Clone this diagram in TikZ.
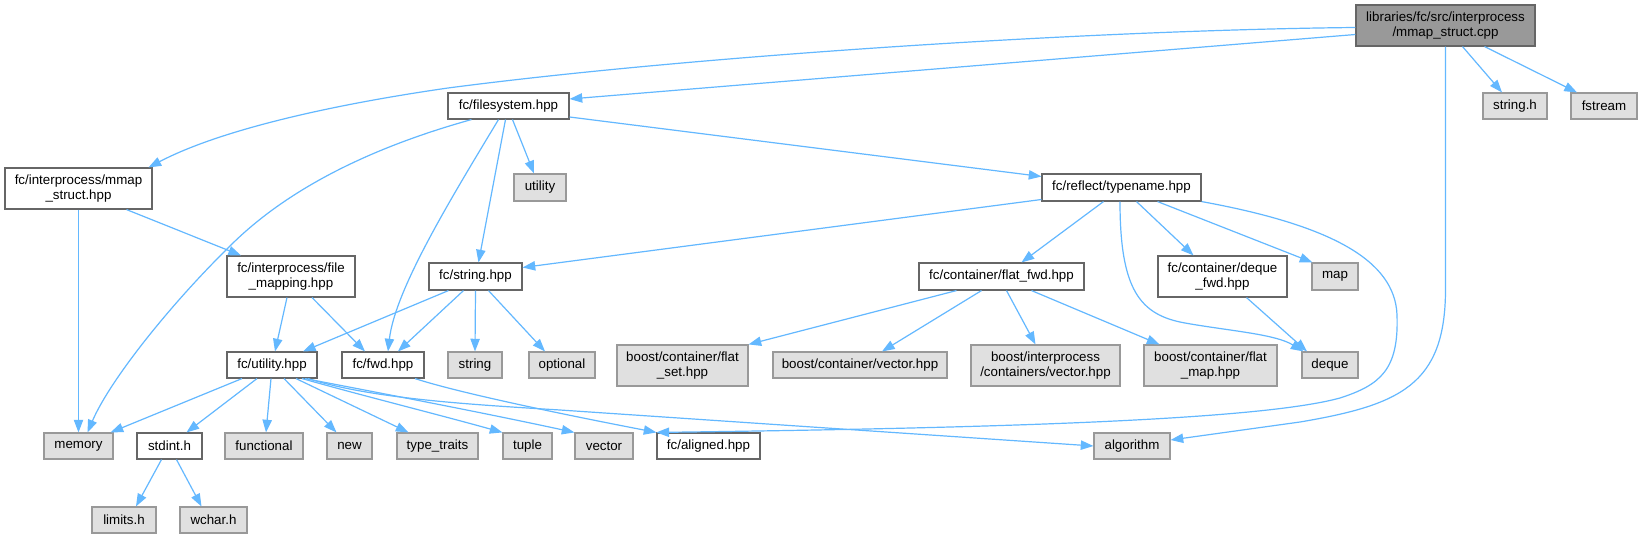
\documentclass[tikz,border=0pt]{standalone}
\usepackage{fontspec}
\setmainfont{Liberation Sans}
\usetikzlibrary{calc,arrows.meta}
\definecolor{edgec}{HTML}{63B8FF}
\definecolor{docdraw}{HTML}{666666}
\definecolor{extfill}{HTML}{E0E0E0}
\definecolor{extdraw}{HTML}{999999}
\definecolor{rootfill}{HTML}{999999}
\newcommand{\gbox}[7]{\node[#1,minimum width={(#5-#3)*0.75pt},minimum height={(#6-#4)*0.75pt}] (#2) at ({(#3+#5)/2},{(#4+#6)/2}) {#7};}
\tikzset{
  basebox/.style={rectangle,inner sep=0pt,line width=0.85pt,align=center,font=\fontsize{10pt}{11.25pt}\selectfont},
  docbox/.style={basebox,draw=docdraw,fill=white},
  extbox/.style={basebox,draw=extdraw,fill=extfill},
  rootbox/.style={basebox,draw=docdraw,fill=rootfill},
  inc/.style={draw=edgec,line width=0.9pt,-{Triangle[length=9.5pt,width=7pt]}}
}
\begin{document}
\begin{tikzpicture}[x=0.75pt,y=-0.75pt]
\useasboundingbox[fill=white] (0,0) rectangle (1642,538);
% nodes
\gbox{rootbox}{root}{1356}{5}{1535}{46}{libraries/fc/src/interprocess\\/mmap\_struct.cpp}
\gbox{extbox}{strh}{1483}{93}{1547}{119}{string.h}
\gbox{extbox}{fstream}{1571}{93}{1637}{119}{fstream}
\gbox{docbox}{fs}{448}{93}{569}{119}{fc/filesystem.hpp}
\gbox{docbox}{mmaph}{5}{168}{152}{209}{fc/interprocess/mmap\\\_struct.hpp}
\gbox{extbox}{util}{514}{174}{566}{201}{utility}
\gbox{docbox}{tn}{1042}{174}{1201}{201}{fc/reflect/typename.hpp}
\gbox{docbox}{fmap}{227}{256}{355}{297}{fc/interprocess/file\\\_mapping.hpp}
\gbox{docbox}{strhpp}{429}{263}{522}{290}{fc/string.hpp}
\gbox{docbox}{flatfwd}{919}{263}{1084}{290}{fc/container/flat\_fwd.hpp}
\gbox{docbox}{dequefwd}{1158}{256}{1287}{297}{fc/container/deque\\\_fwd.hpp}
\gbox{extbox}{map}{1312}{263}{1358}{290}{map}
\gbox{docbox}{utilhpp}{227}{352}{317}{378}{fc/utility.hpp}
\gbox{docbox}{fwd}{342}{352}{424}{378}{fc/fwd.hpp}
\gbox{extbox}{string}{448}{352}{502}{378}{string}
\gbox{extbox}{optional}{529}{352}{595}{378}{optional}
\gbox{extbox}{flatset}{617}{345}{748}{386}{boost/container/flat\\\_set.hpp}
\gbox{extbox}{vechpp}{773}{352}{947}{378}{boost/container/vector.hpp}
\gbox{extbox}{ipvec}{971}{345}{1120}{386}{boost/interprocess\\/containers/vector.hpp}
\gbox{extbox}{flatmap}{1144}{345}{1277}{386}{boost/container/flat\\\_map.hpp}
\gbox{extbox}{deque}{1302}{352}{1358}{378}{deque}
\gbox{extbox}{memory}{44}{433}{113}{459}{memory}
\gbox{docbox}{stdint}{137}{433}{202}{459}{stdint.h}
\gbox{extbox}{functional}{225}{433}{303}{459}{functional}
\gbox{extbox}{new}{327}{433}{372}{459}{new}
\gbox{extbox}{tt}{397}{433}{478}{459}{type\_traits}
\gbox{extbox}{tuple}{503}{433}{552}{459}{tuple}
\gbox{extbox}{vector}{575}{433}{633}{459}{vector}
\gbox{docbox}{aligned}{657}{433}{760}{459}{fc/aligned.hpp}
\gbox{extbox}{alg}{1094}{433}{1170}{459}{algorithm}
\gbox{extbox}{limits}{92}{507}{156}{533}{limits.h}
\gbox{extbox}{wchar}{180}{507}{247}{533}{wchar.h}
% root edges
\draw[inc] ($(root.west)+(0,2)$) .. controls (1100,30) and (700,55) .. (448,88) .. controls (330,105) and (220,130) .. ($(mmaph.north)+(70,0)$);
\draw[inc] ($(root.west)+(0,9)$) -- ($(fs.east)+(0,-7)$);
\draw[inc] ($(root.south)+(17,0)$) -- ($(strh.north)+(-13,0)$);
\draw[inc] ($(root.south)+(39,0)$) -- ($(fstream.north)+(-27,0)$);
\draw[inc] (root.south) -- ($(root.south)+(0,244)$) .. controls (1445,385) and (1400,405) .. (1300,422) -- ($(alg.east)+(0,-6)$);
% filesystem edges
\draw[inc] ($(fs.south)+(-37,0)$) .. controls (380,145) and (290,185) .. (228,248) .. controls (170,305) and (110,380) .. ($(memory.north)+(9,0)$);
\draw[inc] ($(fs.south)+(-10,0)$) .. controls (450,200) and (395,290) .. ($(fwd.north)+(5,0)$);
\draw[inc] ($(fs.south)+(-3,0)$) -- ($(strhpp.north)+(3,0)$);
\draw[inc] ($(fs.south)+(4,0)$) -- ($(util.north)+(-6,0)$);
\draw[inc] ($(fs.east)+(0,11)$) -- ($(tn.west)+(0,-11)$);
% mmap_struct.hpp edges
\draw[inc] (mmaph.south) -- (mmaph.south |- memory.north);
\draw[inc] ($(mmaph.south)+(48,0)$) -- ($(fmap.north)+(-50,0)$);
% typename edges
\draw[inc] ($(tn.west)+(0,12)$) -- ($(strhpp.east)+(0,-9)$);
\draw[inc] ($(tn.south)+(-18,0)$) -- ($(flatfwd.north)+(20,0)$);
\draw[inc] ($(tn.south)+(-1.5,0)$) .. controls (1120,290) and (1140,315) .. (1185,323) .. controls (1230,331) and (1275,334) .. ($(deque.north west)+(2,0)$);
\draw[inc] ($(tn.south)+(15,0)$) -- ($(dequefwd.north)+(-29,0)$);
\draw[inc] ($(tn.south)+(36,0)$) -- ($(map.north west)+(1,0)$);
\draw[inc] (tn.south east) .. controls (1330,225) and (1395,260) .. (1397,315) .. controls (1399,370) and (1380,385) .. (1340,398) .. controls (1260,420) and (1000,428) .. (aligned.north west);
% deque_fwd edge
\draw[inc] ($(dequefwd.south)+(24,0)$) -- ($(deque.north)+(-23,0)$);
% file_mapping edges
\draw[inc] ($(fmap.south)+(-4,0)$) -- ($(utilhpp.north)+(3,0)$);
\draw[inc] ($(fmap.south)+(21,0)$) -- ($(fwd.north)+(-18,0)$);
% string.hpp edges
\draw[inc] ($(strhpp.south)+(-27,0)$) -- ($(utilhpp.north)+(31,0)$);
\draw[inc] ($(strhpp.south)+(-12,0)$) -- ($(fwd.north)+(15,0)$);
\draw[inc] (strhpp.south) -- (string.north);
\draw[inc] ($(strhpp.south)+(13,0)$) -- ($(optional.north)+(-17,0)$);
% utility.hpp edges
\draw[inc] ($(utilhpp.south)+(-30,0)$) -- ($(memory.north east)+(-3,0)$);
\draw[inc] ($(utilhpp.south)+(-15,0)$) -- ($(stdint.north)+(17,0)$);
\draw[inc] ($(utilhpp.south)+(-1,0)$) -- ($(functional.north)+(2,0)$);
\draw[inc] ($(utilhpp.south)+(12,0)$) -- ($(new.north)+(-13,0)$);
\draw[inc] ($(utilhpp.south)+(24,0)$) -- ($(tt.north)+(-29,0)$);
\draw[inc] ($(utilhpp.south)+(30,0)$) .. controls (360,395) and (440,415) .. (tuple.north west);
\draw[inc] ($(utilhpp.south)+(33,0)$) .. controls (380,393) and (480,412) .. (vector.north west);
\draw[inc] ($(utilhpp.south)+(36,0)$) .. controls (370,398) and (460,404) .. (560,410) -- (alg.west);
% fwd.hpp edge
\draw[inc] ($(fwd.south)+(32,0)$) .. controls (450,390) and (530,408) .. (aligned.north west);
% stdint edges
\draw[inc] ($(stdint.south)+(-8,0)$) -- ($(limits.north)+(12,0)$);
\draw[inc] ($(stdint.south)+(7,0)$) -- ($(wchar.north)+(-12,0)$);
% flat_fwd edges
\draw[inc] ($(flatfwd.south)+(-45,0)$) -- (flatset.north east);
\draw[inc] ($(flatfwd.south)+(-20,0)$) -- ($(vechpp.north)+(22,0)$);
\draw[inc] ($(flatfwd.south)+(5,0)$) -- ($(ipvec.north)+(-10,0)$);
\draw[inc] ($(flatfwd.south)+(30,0)$) -- ($(flatmap.north)+(-51,0)$);
\end{tikzpicture}
\end{document}
